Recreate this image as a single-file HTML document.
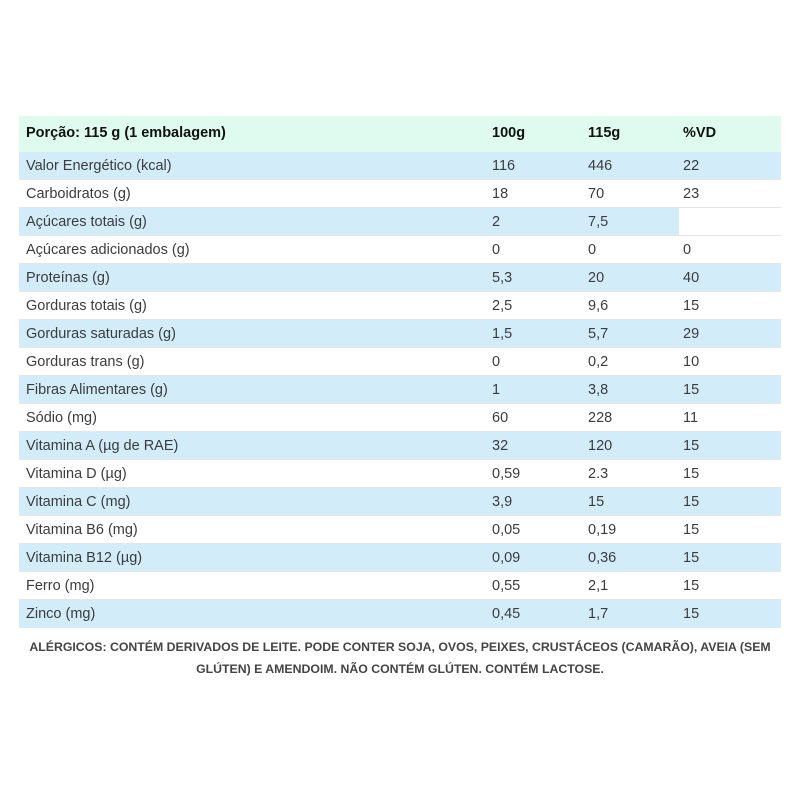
<!DOCTYPE html>
<html><head><meta charset="utf-8"><style>
body{margin:0;width:800px;height:800px;background:#fff;font-family:"Liberation Sans",sans-serif;position:relative;overflow:hidden}
.r{position:absolute;left:19px;width:762px;height:28px;border-bottom:1px solid #e6e6e6;box-sizing:border-box;color:#3c3c3c;font-size:14.5px}
.r span{position:absolute;top:6px}
.b{background:#d3ecfa}
.h{background:#dffbef;height:36px;top:116px;font-weight:bold;color:#111;border:none}
.h span{top:9px}
.c0{left:7px}.c1{left:473px}.c2{left:569px}.c3{left:664px}
.ft{position:absolute;left:0;width:800px;text-align:center;font-size:12.3px;font-weight:bold;color:#444}
</style></head><body>
<div class="r h"><span class="c0">Porção: 115 g (1 embalagem)</span><span class="c1">100g</span><span class="c2">115g</span><span class="c3">%VD</span></div>
<div class="r b" style="top:152px"><span class="c0">Valor Energético (kcal)</span><span class="c1">116</span><span class="c2">446</span><span class="c3">22</span></div>
<div class="r" style="top:180px"><span class="c0">Carboidratos (g)</span><span class="c1">18</span><span class="c2">70</span><span class="c3">23</span></div>
<div class="r" style="top:208px"><div style="position:absolute;left:0;top:0;width:660px;height:27px;background:#d3ecfa"></div><span class="c0">Açúcares totais (g)</span><span class="c1">2</span><span class="c2">7,5</span></div>
<div class="r" style="top:236px"><span class="c0">Açúcares adicionados (g)</span><span class="c1">0</span><span class="c2">0</span><span class="c3">0</span></div>
<div class="r b" style="top:264px"><span class="c0">Proteínas (g)</span><span class="c1">5,3</span><span class="c2">20</span><span class="c3">40</span></div>
<div class="r" style="top:292px"><span class="c0">Gorduras totais (g)</span><span class="c1">2,5</span><span class="c2">9,6</span><span class="c3">15</span></div>
<div class="r b" style="top:320px"><span class="c0">Gorduras saturadas (g)</span><span class="c1">1,5</span><span class="c2">5,7</span><span class="c3">29</span></div>
<div class="r" style="top:348px"><span class="c0">Gorduras trans (g)</span><span class="c1">0</span><span class="c2">0,2</span><span class="c3">10</span></div>
<div class="r b" style="top:376px"><span class="c0">Fibras Alimentares (g)</span><span class="c1">1</span><span class="c2">3,8</span><span class="c3">15</span></div>
<div class="r" style="top:404px"><span class="c0">Sódio (mg)</span><span class="c1">60</span><span class="c2">228</span><span class="c3">11</span></div>
<div class="r b" style="top:432px"><span class="c0">Vitamina A (µg de RAE)</span><span class="c1">32</span><span class="c2">120</span><span class="c3">15</span></div>
<div class="r" style="top:460px"><span class="c0">Vitamina D (µg)</span><span class="c1">0,59</span><span class="c2">2.3</span><span class="c3">15</span></div>
<div class="r b" style="top:488px"><span class="c0">Vitamina C (mg)</span><span class="c1">3,9</span><span class="c2">15</span><span class="c3">15</span></div>
<div class="r" style="top:516px"><span class="c0">Vitamina B6 (mg)</span><span class="c1">0,05</span><span class="c2">0,19</span><span class="c3">15</span></div>
<div class="r b" style="top:544px"><span class="c0">Vitamina B12 (µg)</span><span class="c1">0,09</span><span class="c2">0,36</span><span class="c3">15</span></div>
<div class="r" style="top:572px"><span class="c0">Ferro (mg)</span><span class="c1">0,55</span><span class="c2">2,1</span><span class="c3">15</span></div>
<div class="r b" style="top:600px;border:none"><span class="c0">Zinco (mg)</span><span class="c1">0,45</span><span class="c2">1,7</span><span class="c3">15</span></div>
<div class="ft" style="top:640px">ALÉRGICOS: CONTÉM DERIVADOS DE LEITE. PODE CONTER SOJA, OVOS, PEIXES, CRUSTÁCEOS (CAMARÃO), AVEIA (SEM</div>
<div class="ft" style="top:662px">GLÚTEN) E AMENDOIM. NÃO CONTÉM GLÚTEN. CONTÉM LACTOSE.</div>
</body></html>
